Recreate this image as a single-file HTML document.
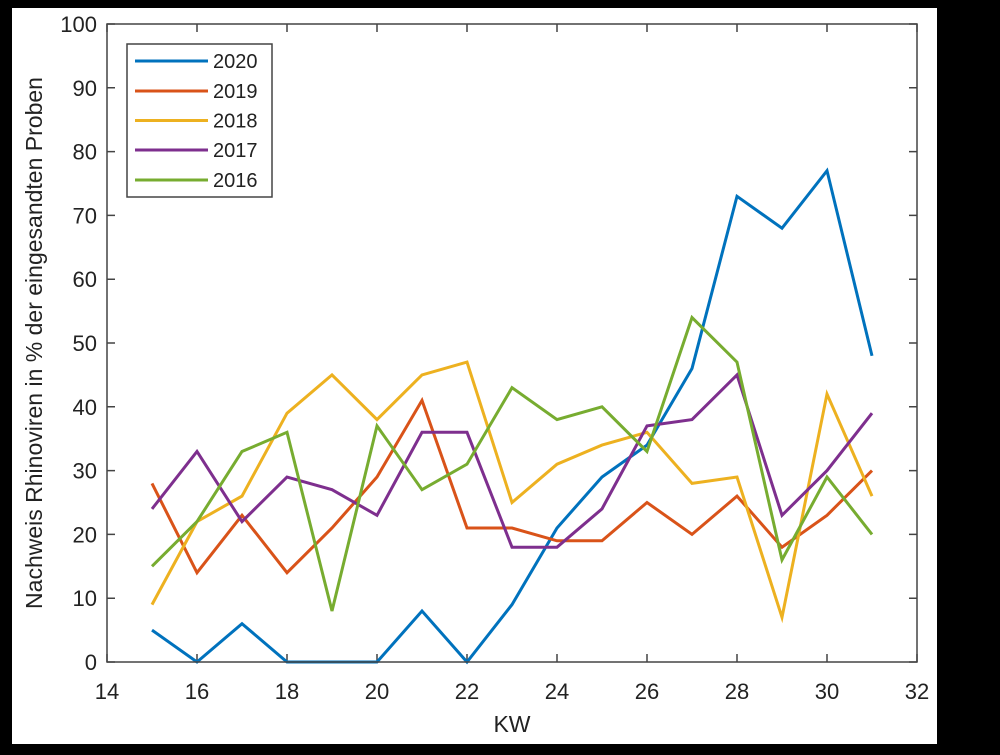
<!DOCTYPE html><html><head><style>body{margin:0;background:#000}svg{display:block}text{font-family:"Liberation Sans",sans-serif;fill:#222}</style></head><body>
<svg width="1000" height="755" viewBox="0 0 1000 755">
<rect x="0" y="0" width="1000" height="755" fill="#000"/>
<rect x="12" y="8" width="925" height="736" fill="#fff"/>
<g stroke="#444" stroke-width="1.5">
<path d="M107 662v-8M197 662v-8M287 662v-8M377 662v-8M467 662v-8M557 662v-8M647 662v-8M737 662v-8M827 662v-8M917 662v-8M107 24v8M197 24v8M287 24v8M377 24v8M467 24v8M557 24v8M647 24v8M737 24v8M827 24v8M917 24v8"/>
<path d="M107 662h8M107 598.2h8M107 534.4h8M107 470.6h8M107 406.8h8M107 343h8M107 279.2h8M107 215.4h8M107 151.6h8M107 87.8h8M107 24h8M917 662h-8M917 598.2h-8M917 534.4h-8M917 470.6h-8M917 406.8h-8M917 343h-8M917 279.2h-8M917 215.4h-8M917 151.6h-8M917 87.8h-8M917 24h-8"/>
</g>
<g font-size="22" text-anchor="middle">
<text x="107" y="699">14</text><text x="197" y="699">16</text><text x="287" y="699">18</text><text x="377" y="699">20</text><text x="467" y="699">22</text><text x="557" y="699">24</text><text x="647" y="699">26</text><text x="737" y="699">28</text><text x="827" y="699">30</text><text x="917" y="699">32</text>
</g>
<g font-size="22" text-anchor="end">
<text x="97" y="670">0</text><text x="97" y="606.2">10</text><text x="97" y="542.4">20</text><text x="97" y="478.6">30</text><text x="97" y="414.8">40</text><text x="97" y="351">50</text><text x="97" y="287.2">60</text><text x="97" y="223.4">70</text><text x="97" y="159.6">80</text><text x="97" y="95.8">90</text><text x="97" y="32">100</text>
</g>
<g fill="none" stroke-width="3">
<polyline stroke="#0072BD" points="152,630.1 197,662 242,623.7 287,662 332,662 377,662 422,611 467,662 512,604.6 557,528 602,477 647,445.1 692,368.5 737,196.3 782,228.2 827,170.7 872,355.8"/>
<polyline stroke="#D95319" points="152,483.4 197,572.7 242,515.3 287,572.7 332,528 377,477 422,400.4 467,528 512,528 557,540.8 602,540.8 647,502.5 692,534.4 737,496.1 782,547.2 827,515.3 872,470.6"/>
<polyline stroke="#EDB120" points="152,604.6 197,521.6 242,496.1 287,413.2 332,374.9 377,419.6 422,374.9 467,362.1 512,502.5 557,464.2 602,445.1 647,432.3 692,483.4 737,477 782,617.3 827,394 872,496.1"/>
<polyline stroke="#7E2F8E" points="152,508.9 197,451.5 242,521.6 287,477 332,489.7 377,515.3 422,432.3 467,432.3 512,547.2 557,547.2 602,508.9 647,425.9 692,419.6 737,374.9 782,515.3 827,470.6 872,413.2"/>
<polyline stroke="#77AC30" points="152,566.3 197,521.6 242,451.5 287,432.3 332,611 377,425.9 422,489.7 467,464.2 512,387.7 557,419.6 602,406.8 647,451.5 692,317.5 737,362.1 782,559.9 827,477 872,534.4"/>
</g>
<rect x="107" y="24" width="810" height="638" fill="none" stroke="#444" stroke-width="1.5"/>
<rect x="127" y="44" width="145" height="153" fill="#fff" stroke="#444" stroke-width="1.5"/>
<g stroke-width="3">
<line x1="135" y1="61" x2="208" y2="61" stroke="#0072BD"/>
<line x1="135" y1="91" x2="208" y2="91" stroke="#D95319"/>
<line x1="135" y1="120.5" x2="208" y2="120.5" stroke="#EDB120"/>
<line x1="135" y1="150" x2="208" y2="150" stroke="#7E2F8E"/>
<line x1="135" y1="180" x2="208" y2="180" stroke="#77AC30"/>
</g>
<g font-size="20">
<text x="213" y="68">2020</text><text x="213" y="98">2019</text><text x="213" y="127.5">2018</text><text x="213" y="157">2017</text><text x="213" y="187">2016</text>
</g>
<text x="512" y="732" font-size="23" text-anchor="middle">KW</text>
<text transform="translate(42,343) rotate(-90)" font-size="23" text-anchor="middle">Nachweis Rhinoviren in % der eingesandten Proben</text>
</svg></body></html>
